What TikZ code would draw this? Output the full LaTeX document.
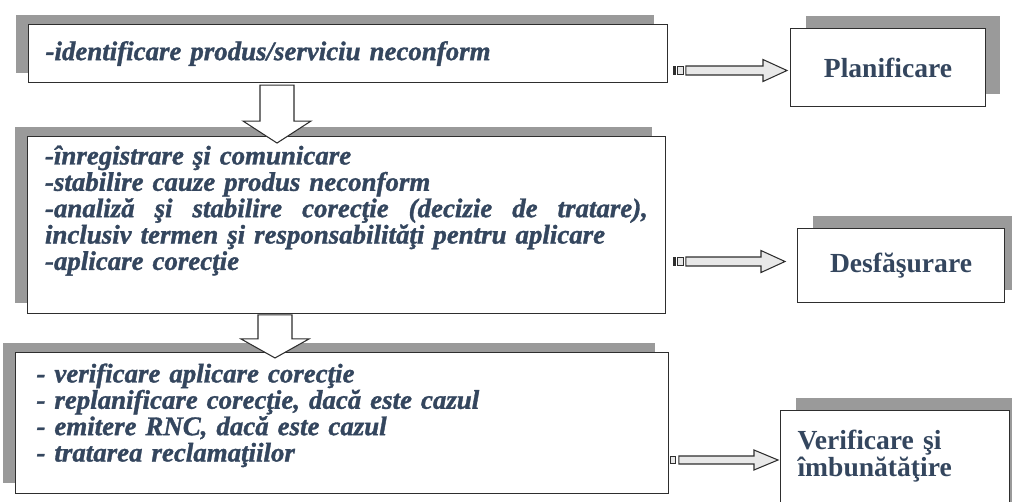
\documentclass[tikz,border=0pt]{standalone}
\usepackage{fontspec}
\setmainfont{Liberation Serif}[BoldItalicFeatures={FakeBold=1.2}]
\usetikzlibrary{calc,shadows}

\definecolor{textblue}{HTML}{34465E}
\definecolor{framegray}{HTML}{2E2E2E}
\definecolor{shadowgray}{HTML}{9A9A9A}
\definecolor{arrowfill}{HTML}{E8E8E8}

\begin{document}
\begin{tikzpicture}[x=0.02cm, y=-0.02cm,
  stepbox/.style={draw=framegray, line width=0.6pt, fill=white, anchor=north west,
    align=left, text=textblue, font=\fontsize{15.3}{15}\selectfont\bfseries\itshape,
    drop shadow={shadow xshift=-0.26cm, shadow yshift=0.2cm, fill=shadowgray, opacity=1}},
  phasebox/.style={draw=framegray, line width=0.6pt, fill=white, anchor=north west,
    text=textblue, font=\fontsize{15.7}{15}\selectfont\bfseries,
    drop shadow={shadow xshift=0.3cm, shadow yshift=0.26cm, fill=shadowgray, opacity=1}},
  downarrow/.style={draw=framegray, line width=0.6pt, fill=white},
  sidearrow/.style={draw=framegray, line width=0.6pt, fill=arrowfill}]

  \useasboundingbox (0,0) rectangle (1012,502);

  % --- Steps of the procedure (left column) ---
  \node[stepbox, text width=12.1cm, inner xsep=0.34cm, minimum height=1.16cm]
    (nonconf) at (28,24) {-identificare produs/serviciu neconform};

  \node[stepbox, text width=12.06cm, inner xsep=0.35cm, inner ysep=0.18cm, text depth=2.8cm]
    (treatment) at (27,136) {-înregistrare şi comunicare\\
    -stabilire cauze produs neconform\\
    \makebox[12.06cm][s]{\spaceskip=0.33em plus 3em\relax
      -analiză şi stabilire corecţie (decizie de tratare),}\\
    inclusiv termen şi responsabilităţi pentru aplicare\\
    -aplicare corecţie};

  \node[stepbox, text width=12.22cm, inner xsep=0.42cm, inner ysep=0.22cm, text depth=2.0cm]
    (followup) at (15,352) {- verificare aplicare corecţie\\
    - replanificare corecţie, dacă este cazul\\
    - emitere RNC, dacă este cazul\\
    - tratarea reclamaţiilor};

  % --- Phases (right column) ---
  \node[phasebox, minimum width=3.9cm, minimum height=1.56cm]
    (planning) at (790,28) {Planificare};
  \node[phasebox, minimum width=4.14cm, minimum height=1.48cm]
    (execution) at (797,228) {Desfăşurare};
  \node[phasebox, align=left, text width=3.9cm, inner xsep=0.34cm, inner ysep=0.4cm,
    text depth=1.2cm] (improvement) at (780,410) {Verificare şi\\ îmbunătăţire};

  % --- Hollow arrows between the steps ---
  \coordinate (d1) at ($(nonconf.south west)+(249,2)$);
  \draw[downarrow] ($(d1)+(-17,0)$) -- ++(0,36) -- ++(-17,0) -- ($(d1)+(0,58)$)
    -- ($(d1)+(34,36)$) -- ++(-17,0) -- ++(0,-36) -- cycle;

  \coordinate (d2) at ($(treatment.south west)+(248,1)$);
  \draw[downarrow] ($(d2)+(-17,0)$) -- ++(0,24) -- ++(-17,0) -- ($(d2)+(0,43)$)
    -- ($(d2)+(34,24)$) -- ++(-17,0) -- ++(0,-24) -- cycle;

  % --- Block arrows from the steps to the phases ---
  \coordinate (s1) at ($(nonconf.east |- planning.west)+(5,3)$);
  \coordinate (e1) at ($(planning.west)+(-3,3)$);
  \fill[framegray] ($(s1)+(0,-4.5)$) rectangle ++(3,9);
  \draw[sidearrow] ($(s1)+(5,-4)$) rectangle ++(6,8);
  \draw[sidearrow] ($(s1)+(13,-4.5)$) -- ($(e1)+(-24,-4.5)$) -- ($(e1)+(-24,-11)$) -- (e1)
    -- ($(e1)+(-24,11)$) -- ($(e1)+(-24,4.5)$) -- ($(s1)+(13,4.5)$) -- cycle;

  \coordinate (s2) at ($(treatment.east |- execution.west)+(7,-4)$);
  \coordinate (e2) at ($(execution.west)+(-12,-4)$);
  \fill[framegray] ($(s2)+(0,-4.5)$) rectangle ++(3,9);
  \draw[sidearrow] ($(s2)+(5,-4)$) rectangle ++(6,8);
  \draw[sidearrow] ($(s2)+(13,-4.5)$) -- ($(e2)+(-24,-4.5)$) -- ($(e2)+(-24,-11)$) -- (e2)
    -- ($(e2)+(-24,11)$) -- ($(e2)+(-24,4.5)$) -- ($(s2)+(13,4.5)$) -- cycle;

  \coordinate (e3) at ($(improvement.north west)+(-2,50)$);
  \coordinate (s3) at ($(followup.east |- e3)+(2,0)$);
  \draw[sidearrow] ($(s3)+(0,-3.5)$) rectangle ++(5,7);
  \draw[sidearrow] ($(s3)+(8,-4)$) -- ($(e3)+(-24,-4)$) -- ($(e3)+(-24,-10)$) -- (e3)
    -- ($(e3)+(-24,10)$) -- ($(e3)+(-24,4)$) -- ($(s3)+(8,4)$) -- cycle;

\end{tikzpicture}
\end{document}
